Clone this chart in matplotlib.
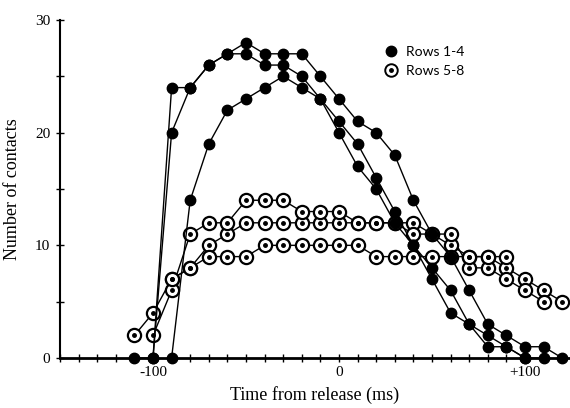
import matplotlib
matplotlib.use('Agg')
import matplotlib.pyplot as plt
from matplotlib.lines import Line2D
from matplotlib.legend_handler import HandlerTuple
from matplotlib.ticker import MultipleLocator

plt.rcParams['font.family'] = ['Liberation Serif', 'DejaVu Serif']

# Rows 1-4 (filled markers), three runs
t_f1 = [-110, -100, -90, -80, -70, -60, -50, -40, -30, -20, -10, 0, 10, 20, 30, 40, 50, 60, 70, 80, 90, 100, 110, 120]
v_f1 = [0, 0, 24, 24, 26, 27, 28, 27, 27, 27, 25, 23, 21, 20, 18, 14, 11, 9, 6, 3, 2, 1, 1, 0]
t_f2 = [-100, -90, -80, -70, -60, -50, -40, -30, -20, -10, 0, 10, 20, 30, 40, 50, 60, 70, 80, 90, 100, 110]
v_f2 = [0, 20, 24, 26, 27, 27, 26, 26, 25, 23, 21, 19, 16, 13, 10, 8, 6, 3, 2, 1, 0, 0]
t_f3 = [-90, -80, -70, -60, -50, -40, -30, -20, -10, 0, 10, 20, 30, 40, 50, 60, 70, 80, 90, 100]
v_f3 = [0, 14, 19, 22, 23, 24, 25, 24, 23, 20, 17, 15, 12, 10, 7, 4, 3, 1, 1, 0]

# Rows 5-8 (open markers), three runs
t_o1 = [-110, -100, -90, -80, -70, -60, -50, -40, -30, -20, -10, 0, 10, 20, 30, 40, 50, 60, 70, 80, 90, 100, 110, 120]
v_o1 = [2, 4, 7, 8, 10, 11, 12, 12, 12, 12, 12, 12, 12, 12, 12, 12, 11, 10, 9, 9, 8, 7, 6, 5]
t_o2 = [-100, -90, -80, -70, -60, -50, -40, -30, -20, -10, 0, 10, 20, 30, 40, 50, 60, 70, 80, 90, 100, 110]
v_o2 = [2, 6, 11, 12, 12, 14, 14, 14, 13, 13, 13, 12, 12, 12, 11, 11, 11, 8, 8, 7, 6, 5]
t_o3 = [-90, -80, -70, -60, -50, -40, -30, -20, -10, 0, 10, 20, 30, 40, 50, 60, 70, 80, 90]
v_o3 = [7, 8, 9, 9, 9, 10, 10, 10, 10, 10, 10, 9, 9, 9, 9, 9, 9, 9, 9]

fig = plt.figure(figsize=(5.7, 4.08), dpi=100)
ax = fig.add_axes([60 / 570, 50 / 408, 510 / 570, 338 / 408])

for t, v in [(t_o1, v_o1), (t_o2, v_o2), (t_o3, v_o3)]:
    ax.plot(t, v, color='black', lw=1, zorder=2)
    ax.plot(t, v, ls='none', marker='o', ms=9.5, mfc='white', mec='black', mew=1.6, zorder=3, clip_on=False)
    ax.plot(t, v, ls='none', marker='o', ms=2.5, color='black', zorder=4, clip_on=False)

for t, v in [(t_f1, v_f1), (t_f2, v_f2), (t_f3, v_f3)]:
    ax.plot(t, v, color='black', lw=1, marker='o', ms=7.5, mfc='black', mec='black', zorder=5, clip_on=False)

ax.set_xlim(-150, 124.2)
ax.set_ylim(0, 30)
ax.spines['top'].set_visible(False)
ax.spines['right'].set_visible(False)
ax.spines['left'].set_linewidth(1.5)
ax.spines['bottom'].set_linewidth(2)

ax.set_yticks([0, 10, 20, 30])
ax.yaxis.set_minor_locator(MultipleLocator(5))
ax.set_xticks([-100, 0, 100])
ax.set_xticklabels(['-100', '0', '+100'])
ax.xaxis.set_minor_locator(MultipleLocator(10))
ax.tick_params(which='both', direction='inout', length=6, width=1, labelsize=11)
ax.tick_params(axis='y', pad=4)
ax.tick_params(axis='x', pad=3)

ax.set_ylabel('Number of contacts', fontsize=13, labelpad=10)
ax.set_xlabel('Time from release (ms)', fontsize=13, labelpad=5)

h_filled = Line2D([], [], ls='none', marker='o', ms=7.5, color='black')
h_ring = Line2D([], [], ls='none', marker='o', ms=9, mfc='white', mec='black', mew=1.4)
h_dot = Line2D([], [], ls='none', marker='o', ms=2.5, color='black')
ax.legend([h_filled, (h_ring, h_dot)], ['Rows 1-4', 'Rows 5-8'],
          handler_map={tuple: HandlerTuple(ndivide=1, pad=0)},
          loc='upper left', bbox_to_anchor=(0.61, 0.96), frameon=False,
          prop={'family': 'Lato', 'size': 10}, handlelength=1, handletextpad=0.6,
          labelspacing=0.5)

fig.savefig('out.png', dpi=100)
